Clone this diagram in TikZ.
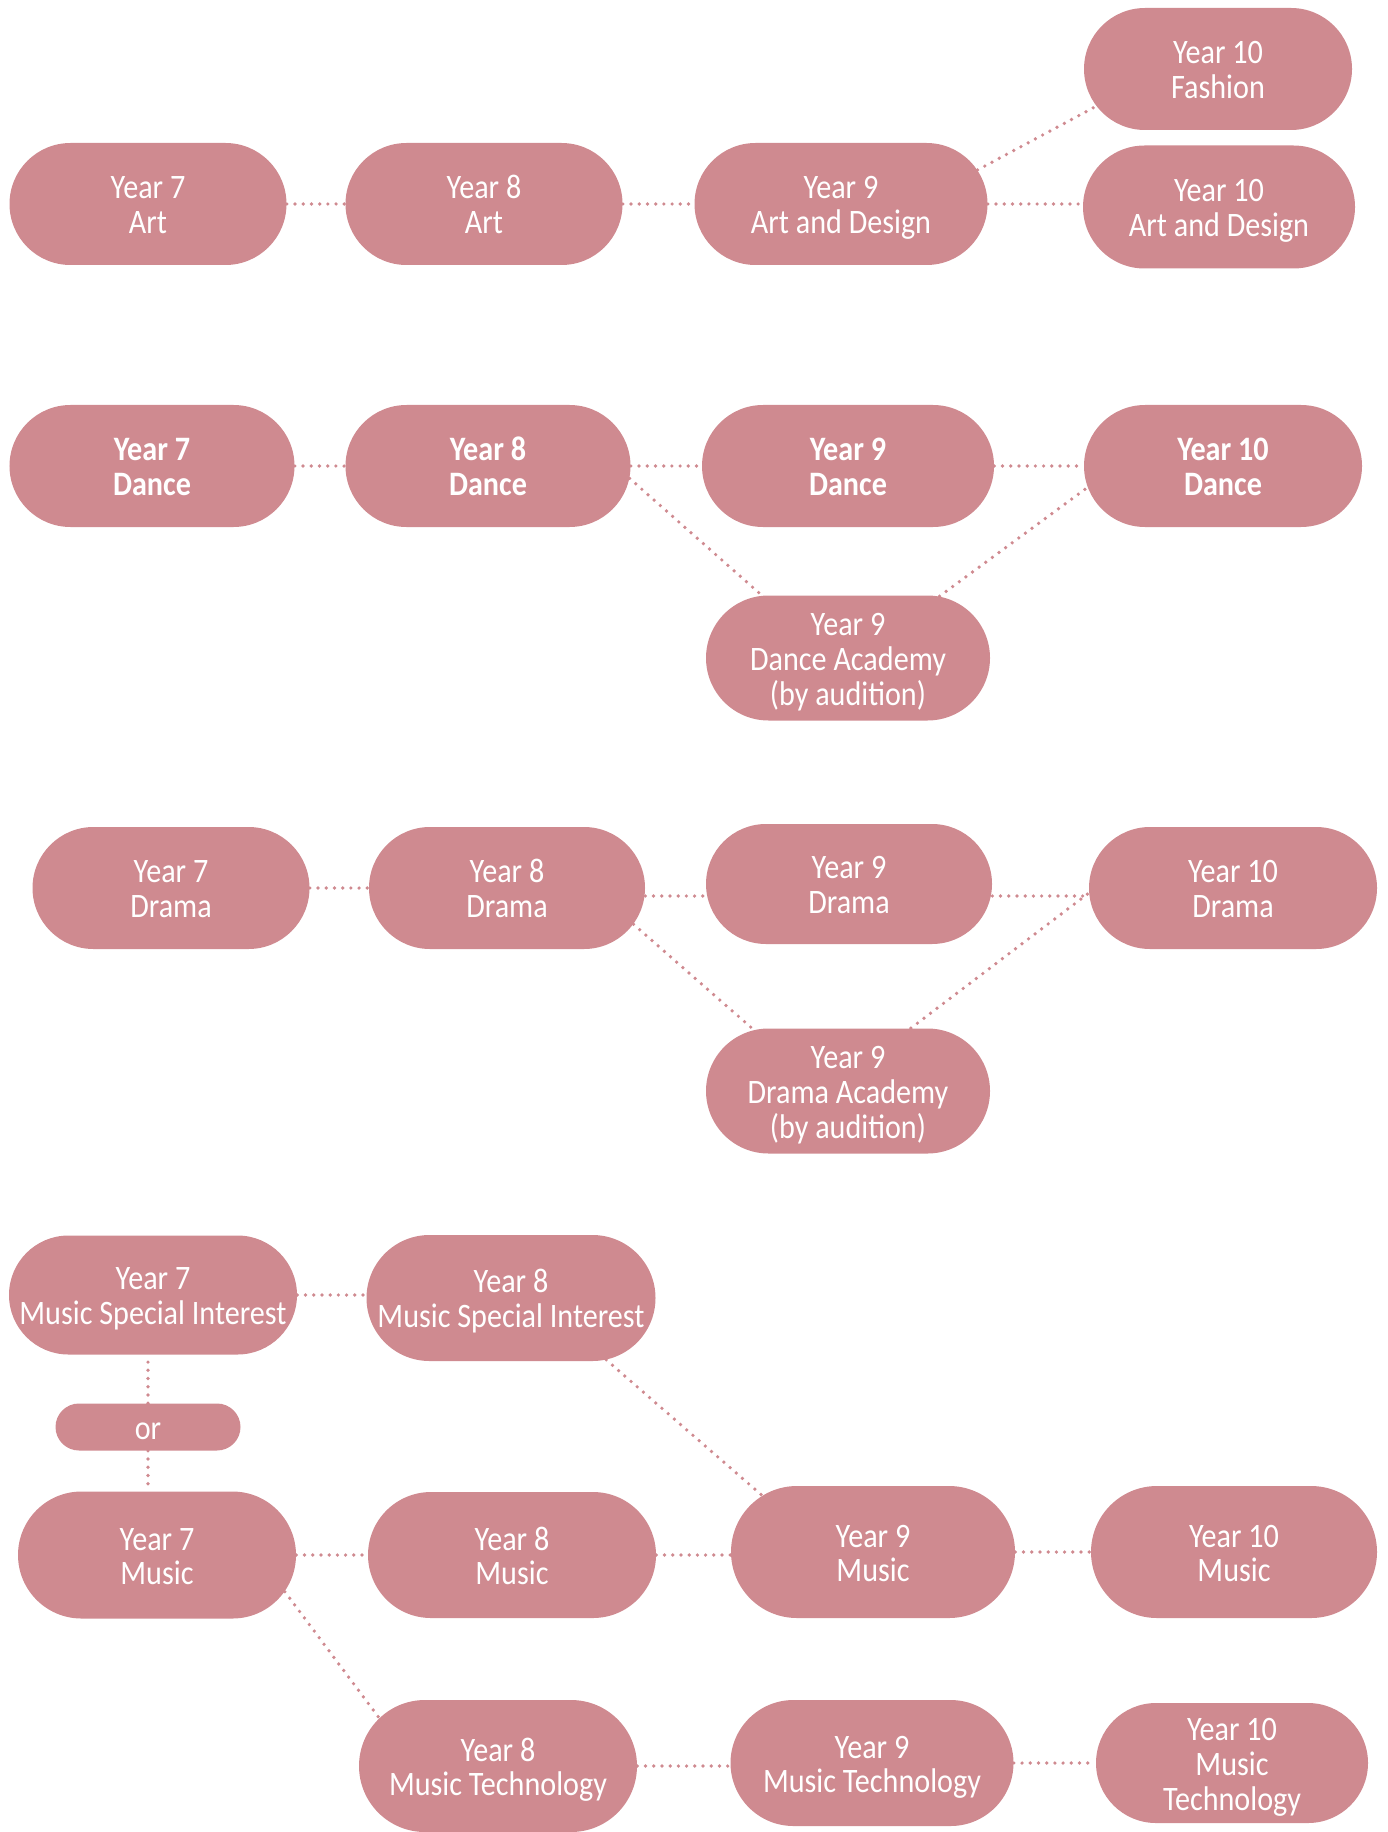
\documentclass[tikz,border=0pt]{standalone}
\usepackage{fontspec}
\setmainfont{Carlito}[FakeStretch=0.88]
\usepackage{tikz}
\usetikzlibrary{shapes.misc}
\definecolor{coursepink}{RGB}{207,138,144}
% text that may run into the round ends
\newcommand{\tx}[1]{\makebox[0pt]{\raisebox{-8.3pt}[0pt][0pt]{\begin{tabular}{@{}c@{}}#1\end{tabular}}}}
\tikzset{
	course/.style 2 args={% width, height
		rounded rectangle,
		fill=coursepink,
		text=white,
		minimum width=#1cm,
		minimum height=#2cm,
		inner xsep=0pt,
		inner ysep=0pt,
		font=\fontsize{19.5}{19.9}\selectfont
	},
	heavy/.style={
		font=\fontsize{19.5}{19.9}\selectfont\bfseries
	},
	link/.style={
		coursepink,
		line width=2.1pt,
		line cap=round,
		dash pattern=on 0pt off 4.67pt
	}
}

\begin{document}
\begin{tikzpicture}
	\useasboundingbox (0,0) rectangle (27.74,-36.64);
	% art
	\node[course={5.54}{2.44}] (art7) at (2.96,-4.08) {\tx{Year 7\\Art}};
	\node[course={5.54}{2.44}] (art8) at (9.68,-4.08) {\tx{Year 8\\Art}};
	\node[course={5.86}{2.44}] (art9) at (16.82,-4.08) {\tx{Year 9\\Art and Design}};
	\node[course={5.36}{2.44}] (fash10) at (24.36,-1.38) {\tx{Year 10\\Fashion}};
	\node[course={5.44}{2.46}] (art10) at (24.38,-4.14) {\tx{Year 10\\Art and Design}};
	% dance
	\node[course={5.7}{2.44},heavy] (dance7) at (3.04,-9.32) {\tx{Year 7\\Dance}};
	\node[course={5.7}{2.44},heavy] (dance8) at (9.76,-9.32) {\tx{Year 8\\Dance}};
	\node[course={5.84}{2.44},heavy] (dance9) at (16.96,-9.32) {\tx{Year 9\\Dance}};
	\node[course={5.56}{2.44},heavy] (dance10) at (24.46,-9.32) {\tx{Year 10\\Dance}};
	\node[course={5.68}{2.5}] (danceacad) at (16.96,-13.16) {\tx{Year 9\\Dance Academy\\(by audition)}};
	% drama
	\node[course={5.54}{2.44}] (drama7) at (3.42,-17.76) {\tx{Year 7\\Drama}};
	\node[course={5.52}{2.44}] (drama8) at (10.14,-17.76) {\tx{Year 8\\Drama}};
	\node[course={5.72}{2.4}] (drama9) at (16.98,-17.68) {\tx{Year 9\\Drama}};
	\node[course={5.76}{2.44}] (drama10) at (24.66,-17.76) {\tx{Year 10\\Drama}};
	\node[course={5.68}{2.5}] (dramaacad) at (16.96,-21.82) {\tx{Year 9\\Drama Academy\\(by audition)}};
	% music
	\node[course={5.76}{2.38}] (msi7) at (3.06,-25.9) {\tx{Year 7\\Music Special Interest}};
	\node[course={5.78}{2.52}] (msi8) at (10.22,-25.96) {\tx{Year 8\\Music Special Interest}};
	\node[course={3.7}{0.94}] (or) at (2.96,-28.54) {\tx{or}};
	\node[course={5.56}{2.54}] (music7) at (3.14,-31.1) {\tx{Year 7\\Music}};
	\node[course={5.76}{2.52}] (music8) at (10.24,-31.1) {\tx{Year 8\\Music}};
	\node[course={5.68}{2.64}] (music9) at (17.46,-31.04) {\tx{Year 9\\Music}};
	\node[course={5.72}{2.64}] (music10) at (24.68,-31.04) {\tx{Year 10\\Music}};
	\node[course={5.56}{2.64}] (mtech8) at (9.96,-35.32) {\tx{Year 8\\Music Technology}};
	\node[course={5.66}{2.52}] (mtech9) at (17.44,-35.26) {\tx{Year 9\\Music Technology}};
	\node[course={5.44}{2.4}] (mtech10) at (24.64,-35.26) {\tx{Year 10\\Music\\Technology}};

	\foreach \a/\b in {art7/art8,art8/art9,art9/art10,
		dance7/dance8,dance8/dance9,dance9/dance10,
		drama7/drama8,
		msi7/msi8,music7/music8,music8/music9,music9/music10,
		mtech8/mtech9,mtech9/mtech10}
		\draw[link] (\a.east) -- (\a.east -| \b.west);
	\foreach \a/\b in {drama8/drama9,drama9/drama10}
		\draw[link] ([yshift=-0.16cm]drama8.east -| \a.east) -- ([yshift=-0.16cm]drama8.east -| \b.west);

	\draw[link] (art9.14) -- (fash10.197);
	\draw[link] (dance8.-5) -- (danceacad.144);
	\draw[link] (danceacad.34) -- (dance10.189);
	\draw[link] (drama8.-16) -- (dramaacad.147);
	\draw[link] (dramaacad.45) -- (drama10.182);
	\draw[link] (or.north) -- (or.north |- msi7.south);
	\draw[link] (or.south) -- (or.south |- music7.north);
	\draw[link] (msi8.-33) -- (music9.153);
	\draw[link] (music7.-16) -- (mtech8.158);
\end{tikzpicture}
\end{document}
